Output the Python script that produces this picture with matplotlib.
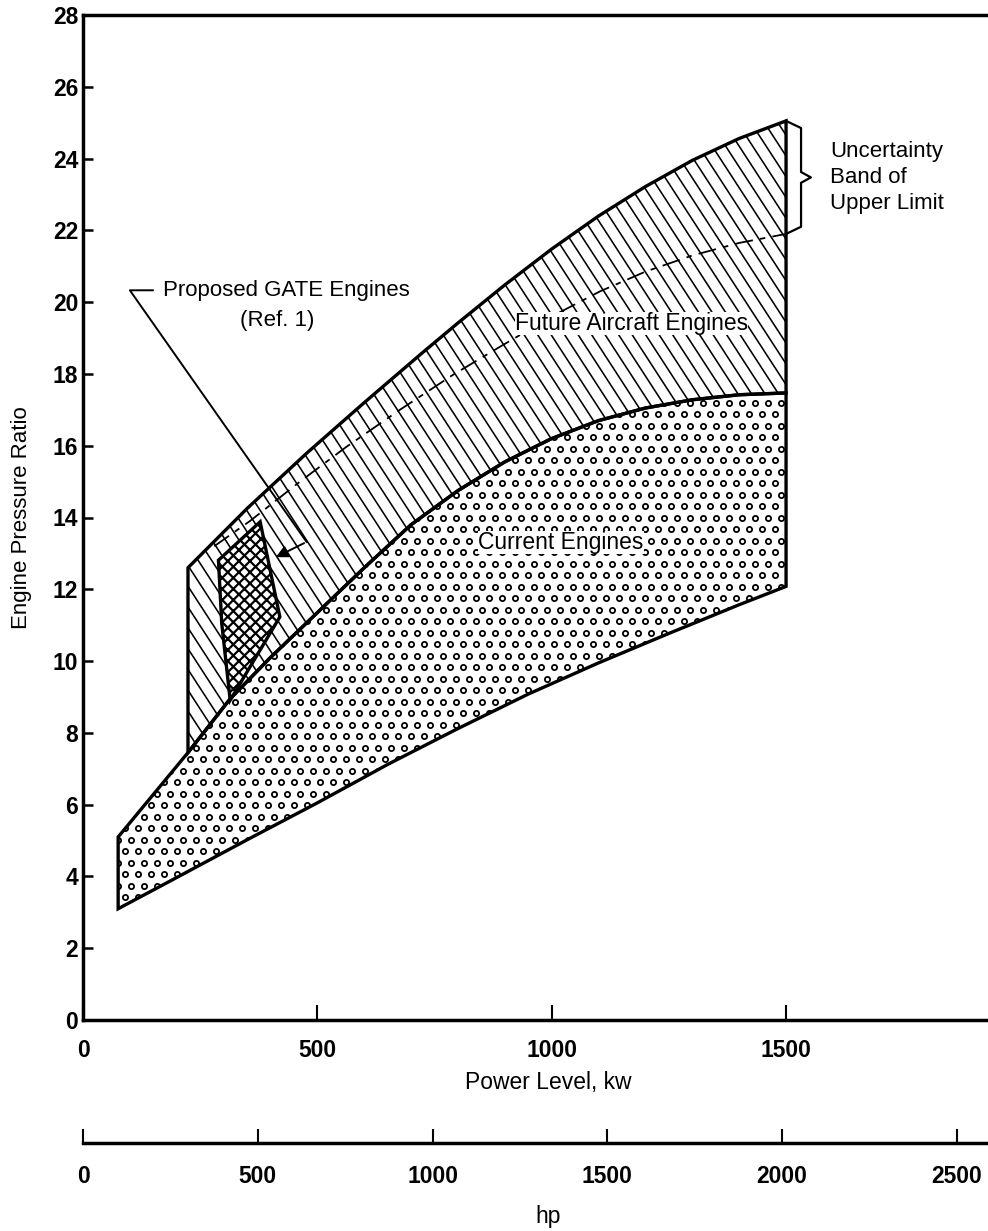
import numpy as np
import matplotlib.pyplot as plt
from matplotlib.patches import Polygon
from matplotlib.collections import LineCollection

plt.rcParams['font.family'] = ['Liberation Sans', 'DejaVu Sans']
plt.rcParams['hatch.linewidth'] = 1.6

# boundaries: power (kw) vs engine pressure ratio
cur_low_kw = [75, 200, 350, 500, 650, 800, 950, 1100, 1250, 1400, 1500]
cur_low_pr = [3.1, 3.97, 5.02, 6.05, 7.12, 8.12, 9.08, 9.95, 10.77, 11.57, 12.08]
cur_up_kw = [75, 224, 314, 400, 500, 600, 700, 800, 900, 1000, 1100, 1200, 1300, 1400, 1500]
cur_up_pr = [5.1, 7.45, 8.95, 10.1, 11.35, 12.6, 13.8, 14.75, 15.55, 16.2, 16.7, 17.05, 17.28, 17.42, 17.47]
fut_up_kw = [224, 350, 478, 600, 725, 800, 900, 1000, 1100, 1200, 1300, 1400, 1500]
fut_up_pr = [12.6, 14.25, 15.8, 17.2, 18.6, 19.42, 20.48, 21.48, 22.4, 23.22, 23.95, 24.56, 25.05]
dash_kw = [280, 356, 463, 560, 676, 790, 890, 1000, 1103, 1200, 1300, 1400, 1500]
dash_pr = [13.2, 13.9, 15.0, 15.95, 17.0, 17.98, 18.76, 19.6, 20.3, 20.85, 21.3, 21.65, 21.9]
gate_kw = [289, 378, 420, 314, 296]
gate_pr = [12.81, 13.88, 11.23, 8.91, 11.05]

leader_kw = [149, 100, 477]
leader_pr = [20.33, 20.33, 13.32]
arrow_tip = (406, 12.86)

kw_ticks = [0, 500, 1000, 1500]
hp_ticks = [0, 500, 1000, 1500, 2000, 2500]
pr_ticks = list(range(0, 29, 2))
KW_PER_HP = 0.7457

W, H = 988, 1231
fig = plt.figure(figsize=(W / 100, H / 100), dpi=100)
left, right_px = 83, 1000
bot_px, top_px = 1020, 15
ax = fig.add_axes([left / W, 1 - bot_px / H, (right_px - left) / W, (bot_px - top_px) / H])
xmax = (right_px - left) / 0.4687
ax.set_xlim(0, xmax)
ax.set_ylim(0, 28)

# current engines region
cur_poly = np.vstack([np.column_stack([cur_low_kw, cur_low_pr]),
                      np.column_stack([cur_up_kw, cur_up_pr])[::-1]])
cur_patch = Polygon(cur_poly, closed=True, facecolor='white', edgecolor='none', zorder=2)
ax.add_patch(cur_patch)

# future aircraft engines region
fut_poly = np.vstack([np.column_stack([fut_up_kw, fut_up_pr]),
                      np.column_stack([cur_up_kw, cur_up_pr])[::-1][:-1]])
fut_patch = Polygon(fut_poly, closed=True, facecolor='white', edgecolor='none', zorder=2)
ax.add_patch(fut_patch)

# hatch lines for the future region (drawn in pixel space, clipped)
inv = ax.transData.inverted()
pts = ax.transData.transform(fut_poly)
x0, y0 = pts.min(axis=0)
x1, y1 = pts.max(axis=0)
run = (y1 - y0) / np.tan(np.radians(57))
segs = [inv.transform([(xs, y1), (xs + run, y0)]) for xs in np.arange(x0 - run, x1 + 14, 13.5)]
lc = LineCollection(segs, colors='black', linewidths=1.15, zorder=3)
ax.add_collection(lc)
lc.set_clip_path(fut_patch)

# small open circles for the current region
pts = ax.transData.transform(cur_poly)
x0, y0 = pts.min(axis=0)
x1, y1 = pts.max(axis=0)
dots = []
for i, yy in enumerate(np.arange(y0, y1 + 11, 11.5)):
    for xx in np.arange(x0 + (i % 2) * 6.5, x1 + 13, 13):
        dots.append((xx, yy))
dots = inv.transform(np.array(dots))
sc = ax.scatter(dots[:, 0], dots[:, 1], s=14, marker='o', facecolors='white',
                edgecolors='black', linewidths=1.3, zorder=3)
sc.set_clip_path(cur_patch)

# outlines on top
ax.add_patch(Polygon(cur_poly, closed=True, fill=False, edgecolor='black', lw=2.4, zorder=4))
ax.add_patch(Polygon(fut_poly, closed=True, fill=False, edgecolor='black', lw=2.4, zorder=4))

# dash-dot limit line
ax.plot(dash_kw, dash_pr, color='black', lw=1.3, dashes=(10, 4, 3, 4), zorder=4)

# proposed GATE engines
ax.add_patch(Polygon(np.column_stack([gate_kw, gate_pr]), closed=True, facecolor='white',
                     edgecolor='black', hatch='xxx', lw=2.4, zorder=5))

# leader with arrow
ax.plot(leader_kw, leader_pr, color='black', lw=1.4, zorder=6)
ax.annotate('', xy=arrow_tip, xytext=(leader_kw[-1], leader_pr[-1]),
            arrowprops=dict(arrowstyle='-|>', color='black', lw=1.4, mutation_scale=18), zorder=6)

# brace for uncertainty band
top, bot = fut_up_pr[-1], dash_pr[-1]
mid = (top + bot) / 2
xe = fut_up_kw[-1]
ax.plot([xe, xe + 32, xe + 32, xe + 53, xe + 32, xe + 32, xe],
        [top, top - 0.2, mid + 0.15, mid, mid - 0.15, bot + 0.2, bot],
        color='black', lw=1.6, clip_on=False, zorder=6)

fs = 16
ax.text(171, 20.33, 'Proposed GATE Engines', fontsize=fs, ha='left', va='center', zorder=7)
ax.text(414, 19.5, '(Ref. 1)', fontsize=fs, ha='center', va='center', zorder=7)
ax.text(1171, 19.4, 'Future Aircraft Engines', fontsize=fs + 0.5, ha='center', va='center', zorder=7,
        bbox=dict(facecolor='white', edgecolor='none', pad=0))
ax.text(1020, 13.3, 'Current Engines', fontsize=fs + 0.5, ha='center', va='center', zorder=7,
        bbox=dict(facecolor='white', edgecolor='none', pad=0))
ax.text(1594, mid, 'Uncertainty\nBand of\nUpper Limit', fontsize=fs, ha='left', va='center',
        linespacing=1.3, zorder=7)

# axes styling
ax.spines['right'].set_visible(False)
for s in ['left', 'bottom', 'top']:
    ax.spines[s].set_linewidth(2.5)
ax.set_xticks(kw_ticks)
ax.set_yticks(pr_ticks)
ax.tick_params(axis='x', direction='in', length=11, width=1.5, pad=14, labelsize=16.5)
ax.tick_params(axis='y', direction='in', length=7, width=1.8, pad=3.5, labelsize=16.5)
plt.setp(ax.get_xticklabels() + ax.get_yticklabels(), fontweight='bold')
ax.set_xlabel('Power Level, kw', fontsize=16.5)
ax.xaxis.set_label_coords((548 - left) / (right_px - left), (bot_px - 1083) / (bot_px - top_px))
ax.xaxis.label.set_va('center')
ax.set_ylabel('Engine Pressure Ratio', fontsize=16)
ax.yaxis.set_label_coords((22 - left) / (right_px - left), 0.5)
ax.yaxis.label.set_va('center')

# horsepower scale
ax2 = fig.add_axes([left / W, 1 - 1143 / H, (right_px - left) / W, 0.0001])
ax2.set_xlim(0, xmax / KW_PER_HP)
ax2.patch.set_visible(False)
for s in ['top', 'left', 'right']:
    ax2.spines[s].set_visible(False)
ax2.spines['bottom'].set_linewidth(2.5)
ax2.set_yticks([])
ax2.set_xticks(hp_ticks)
ax2.tick_params(axis='x', direction='in', length=10, width=1.5, pad=16, labelsize=16.5)
plt.setp(ax2.get_xticklabels(), fontweight='bold')
fig.text(548 / W, 1 - 1217 / H, 'hp', fontsize=16.5, ha='center', va='center')

fig.savefig('out.png', dpi=100)
